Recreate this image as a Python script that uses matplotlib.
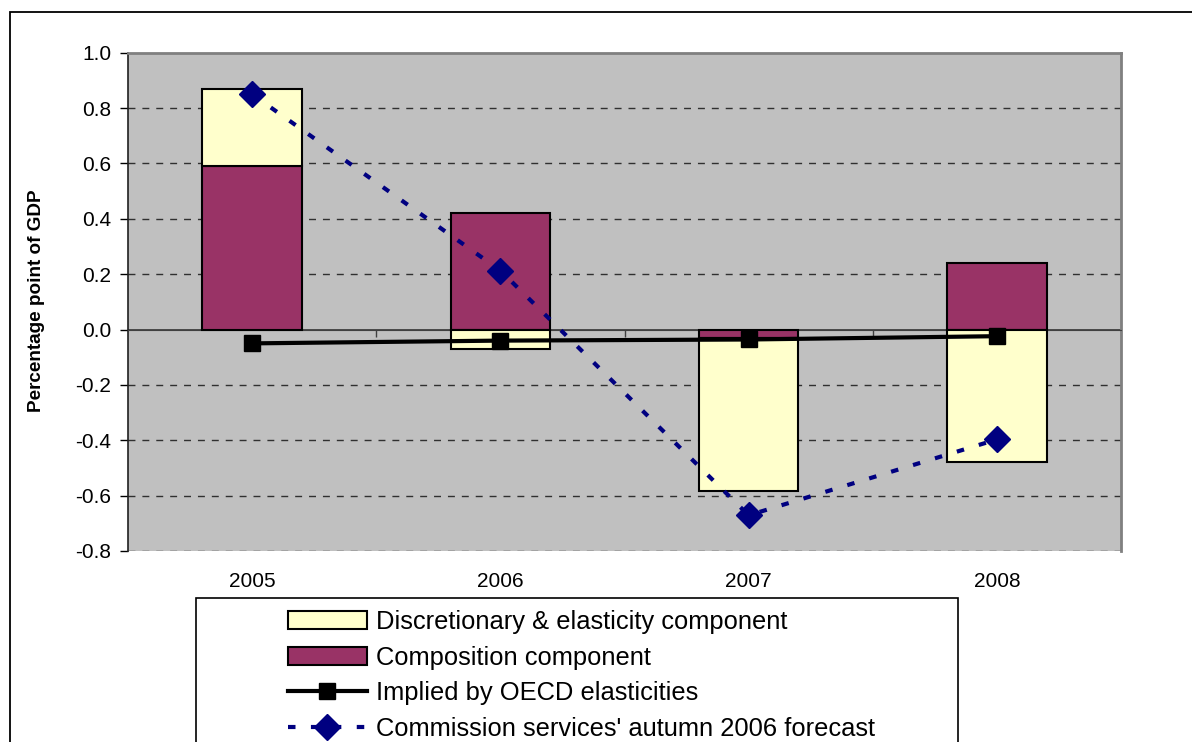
import matplotlib
matplotlib.use("Agg")
import matplotlib.pyplot as plt
import numpy as np
from matplotlib.patches import Rectangle
from matplotlib.lines import Line2D

plt.rcParams['font.family'] = ['Liberation Sans', 'DejaVu Sans']

years = ["2005", "2006", "2007", "2008"]
composition = [0.59, 0.42, -0.03, 0.24]
discretionary = [0.28, -0.07, -0.555, -0.48]
oecd = [-0.05, -0.04, -0.036, -0.024]
commission = [0.85, 0.213, -0.671, -0.397]

yticks = [-0.8, -0.6, -0.4, -0.2, 0.0, 0.2, 0.4, 0.6, 0.8, 1.0]

C_YELLOW = "#FFFFCC"
C_PURPLE = "#993366"
C_NAVY = "#000080"
C_BG = "#C0C0C0"

W, H = 1192, 742
fig = plt.figure(figsize=(W / 100, H / 100), dpi=100)
fig.patch.set_facecolor("white")

# outer chart frame (runs off the right and bottom edges)
fig.patches.append(Rectangle((10 / W, -0.2), 1.3, 1 - 12 / H + 0.2,
                             transform=fig.transFigure, fill=False,
                             edgecolor="black", linewidth=1.3, zorder=0))

ax = fig.add_axes([128 / W, 1 - 551 / H, (1121 - 128) / W, (551 - 52.7) / H])
ax.set_facecolor(C_BG)

x = np.arange(len(years))
bw = 0.4

# stacked columns: positives stack upward, negatives downward
pos_base = np.zeros(len(years))
neg_base = np.zeros(len(years))
for vals, col in [(composition, C_PURPLE), (discretionary, C_YELLOW)]:
    vals = np.asarray(vals)
    bottoms = np.where(vals >= 0, pos_base, neg_base)
    ax.bar(x, vals, bw, bottom=bottoms, color=col, edgecolor="black",
           linewidth=1.5, zorder=3)
    pos_base += np.where(vals >= 0, vals, 0)
    neg_base += np.where(vals < 0, vals, 0)

ax.plot(x, oecd, color="black", linewidth=3, marker="s", markersize=12,
        zorder=5)
ax.plot(x, commission, color=C_NAVY, linewidth=3, linestyle=(0, (1.8, 3.7)),
        marker="D", markersize=13, zorder=6)

ax.set_xlim(-0.5, len(years) - 0.5)
ax.set_ylim(-0.8, 1.0)

# gridlines
for yv in yticks:
    if abs(yv) > 1e-9 and yv < 1.0:
        ax.axhline(yv, color="#303030", linewidth=1, linestyle=(0, (5, 5)),
                   zorder=1)
ax.axhline(0, color="#404040", linewidth=1.3, zorder=2)

ax.set_yticks(yticks)
ax.set_yticklabels([f"{v:.1f}" for v in yticks], fontsize=15)
ax.tick_params(axis="y", direction="out", length=6, width=1, pad=6)

# category axis sits on zero with ticks between categories
ax.spines["bottom"].set_position(("data", 0))
ax.spines["bottom"].set_color("#404040")
ax.set_xticks(x)
ax.set_xticklabels([])
ax.tick_params(axis="x", which="major", length=0)
ax.set_xticks(np.arange(len(years) - 1) + 0.5, minor=True)
ax.tick_params(axis="x", which="minor", direction="out", length=5, width=1,
               color="#404040")
for xi, lab in zip(x, years):
    ax.text(xi, -0.062, lab, transform=ax.get_xaxis_transform(),
            ha="center", va="center", fontsize=15)

for s in ["top", "right"]:
    ax.spines[s].set_color("#808080")
    ax.spines[s].set_linewidth(2)
ax.spines["left"].set_color("#202020")
ax.spines["left"].set_linewidth(1.2)

fig.text(37 / W, 1 - 301 / H, "Percentage point of GDP", rotation=90,
         ha="center", va="center", fontsize=13.6, fontweight="bold")

# legend with its own frame
fig.patches.append(Rectangle((196 / W, -0.2), (958 - 196) / W,
                             1 - 598 / H + 0.2, transform=fig.transFigure,
                             facecolor="white", edgecolor="black",
                             linewidth=1.2, zorder=1))
handles = [
    Rectangle((0, 0), 1, 1, facecolor=C_YELLOW, edgecolor="black", linewidth=1.5),
    Rectangle((0, 0), 1, 1, facecolor=C_PURPLE, edgecolor="black", linewidth=1.5),
    Line2D([], [], color="black", linewidth=3, marker="s", markersize=12),
    Line2D([], [], color=C_NAVY, linewidth=3, linestyle=(0, (1.8, 3.7)),
           marker="D", markersize=13),
]
labels = ["Discretionary & elasticity component", "Composition component",
          "Implied by OECD elasticities",
          "Commission services' autumn 2006 forecast"]
leg = fig.legend(handles, labels, loc="upper left",
                 bbox_to_anchor=(288 / W, 1 - 610 / H), frameon=False,
                 fontsize=18.4, handlelength=3.09, handletextpad=0.35,
                 labelspacing=0.45, borderpad=0, borderaxespad=0)
leg.set_zorder(3)

fig.savefig("out.png", dpi=100)
